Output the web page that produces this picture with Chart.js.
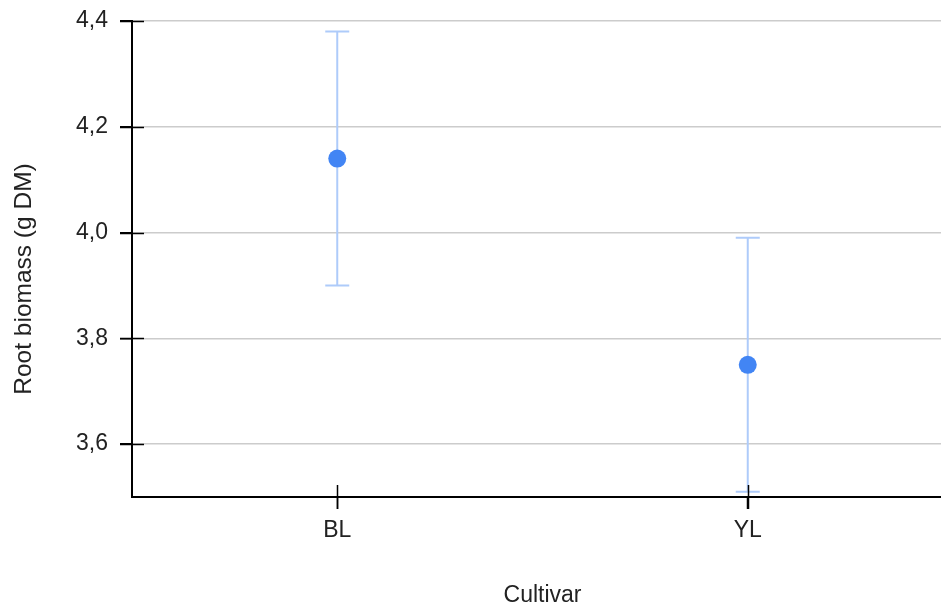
<!DOCTYPE html>
<html>
<head>
<meta charset="utf-8">
<script src="https://cdn.jsdelivr.net/npm/chart.js@4/dist/chart.umd.min.js"></script>
<style>
  html, body { margin: 0; padding: 0; background: #fff; overflow: hidden; }
  #wrap { width: 941px; height: 607px; overflow: hidden; }
</style>
</head>
<body>
<div id="wrap"><canvas id="grafico" width="962" height="607"></canvas></div>
<script>
const categorias = ['BL', 'YL'];
const medias = [4.14, 3.75];
const limiteInferior = [3.90, 3.51];
const limiteSuperior = [4.38, 3.99];
const ticksY = [3.6, 3.8, 4.0, 4.2, 4.4];

const fuente = "'Liberation Sans', Arial, sans-serif";

// barras de error y marcas cruzando los ejes
const extras = {
    id: 'extras',
    beforeDatasetsDraw(chart) {
        const ctx = chart.ctx;
        const x = chart.scales.x;
        const y = chart.scales.y;
        ctx.save();
        ctx.strokeStyle = '#aecbfa';
        ctx.lineWidth = 2;
        categorias.forEach((c, i) => {
            const px = x.getPixelForValue(i);
            const y1 = y.getPixelForValue(limiteInferior[i]);
            const y2 = y.getPixelForValue(limiteSuperior[i]);
            ctx.beginPath();
            ctx.moveTo(px, y1); ctx.lineTo(px, y2);
            ctx.moveTo(px - 12, y1); ctx.lineTo(px + 12, y1);
            ctx.moveTo(px - 12, y2); ctx.lineTo(px + 12, y2);
            ctx.stroke();
        });
        ctx.restore();
    },
    afterDraw(chart) {
        const ctx = chart.ctx;
        const x = chart.scales.x;
        const y = chart.scales.y;
        const area = chart.chartArea;
        ctx.save();
        ctx.strokeStyle = '#000';
        ctx.lineWidth = 1.5;
        ctx.beginPath();
        ticksY.forEach(v => {
            const py = Math.round(y.getPixelForValue(v)) + 0.5;
            ctx.moveTo(area.left - 12, py); ctx.lineTo(area.left + 12, py);
        });
        categorias.forEach((c, i) => {
            const px = Math.round(x.getPixelForValue(i)) + 0.5;
            ctx.moveTo(px, area.bottom - 12); ctx.lineTo(px, area.bottom + 12);
        });
        ctx.stroke();

        ctx.fillStyle = '#222';
        ctx.textAlign = 'center';
        ctx.textBaseline = 'middle';
        ctx.font = '23px ' + fuente;
        ctx.fillText('Cultivar', (area.left + area.right) / 2, 596);
        ctx.font = '24.5px ' + fuente;
        ctx.translate(24, 279);
        ctx.rotate(-Math.PI / 2);
        ctx.fillText('Root biomass (g DM)', 0, 0);
        ctx.restore();
    }
};

new Chart(document.getElementById('grafico'), {
    type: 'line',
    data: {
        labels: categorias,
        datasets: [{
            label: 'Root biomass',
            data: medias,
            showLine: false,
            pointRadius: 9,
            pointHoverRadius: 9,
            pointBackgroundColor: '#4285f4',
            pointBorderColor: '#4285f4',
            pointBorderWidth: 0
        }]
    },
    options: {
        responsive: false,
        animation: false,
        layout: { padding: { top: 21, left: 0, right: 0, bottom: 0 } },
        plugins: { legend: { display: false }, tooltip: { enabled: false } },
        scales: {
            x: {
                offset: true,
                afterFit: s => { s.height = 110; s.paddingRight = 0; s.paddingLeft = 0; },
                grid: { drawOnChartArea: false, tickLength: 12, tickColor: '#000', tickWidth: 1.5 },
                border: { color: '#000', width: 2 },
                ticks: { color: '#222', font: { family: fuente, size: 23 }, padding: 8 }
            },
            y: {
                min: 3.5,
                max: 4.4,
                afterFit: s => { s.width = 132; s.paddingTop = 0; s.paddingBottom = 0; },
                afterBuildTicks: s => { s.ticks = ticksY.map(v => ({ value: v })); },
                grid: { color: '#cccccc', lineWidth: 1.5, tickLength: 12, tickColor: '#000', tickWidth: 1.5 },
                border: { color: '#000', width: 2 },
                ticks: {
                    color: '#222',
                    font: { family: fuente, size: 23 },
                    padding: 12,
                    callback: v => v.toFixed(1).replace('.', ',')
                }
            }
        }
    },
    plugins: [extras]
});
</script>
</body>
</html>
